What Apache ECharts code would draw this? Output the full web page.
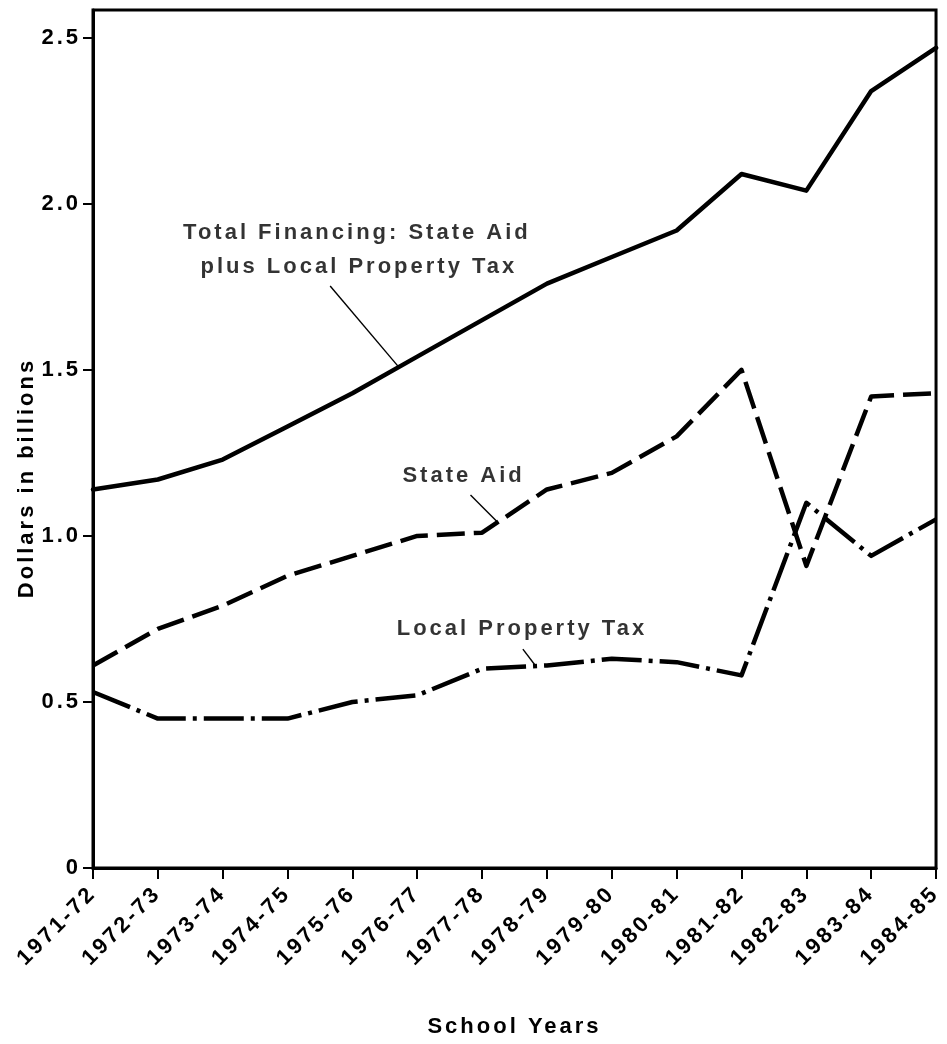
<!DOCTYPE html>
<html>
<head>
<meta charset="utf-8">
<script src="https://cdn.jsdelivr.net/npm/echarts@6/dist/echarts.min.js"></script>
<style>
html,body{margin:0;padding:0;background:#fff;}
#chart{width:947px;height:1044px;}
</style>
</head>
<body>
<div id="chart"></div>
<script>
// ---- data ----
const schoolYears = ['1971-72','1972-73','1973-74','1974-75','1975-76','1976-77','1977-78',
  '1978-79','1979-80','1980-81','1981-82','1982-83','1983-84','1984-85'];
const totalFinancing   = [1.14,1.17,1.23,1.33,1.43,1.54,1.65,1.76,1.84,1.92,2.09,2.04,2.34,2.47];
const stateAid         = [0.61,0.72,0.79,0.88,0.94,1.00,1.01,1.14,1.19,1.30,1.50,0.91,1.42,1.43];
const localPropertyTax = [0.53,0.45,0.45,0.45,0.50,0.52,0.60,0.61,0.63,0.62,0.58,1.10,0.94,1.05];
const yTickValues = [0, 0.5, 1.0, 1.5, 2.0, 2.5];
// annotation labels: [categoryPosition, value, text]
const annotationLabels = [
  [4.07, 1.912, 'Total Financing: State Aid'],
  [4.10, 1.810, 'plus Local Property Tax'],
  [5.715, 1.181, 'State Aid'],
  [6.614, 0.719, 'Local Property Tax']
];
// leader lines: [[x1, y1], [x2, y2]]
const leaderLines = [
  [[3.657, 1.753], [4.709, 1.51]],
  [[5.821, 1.123], [6.248, 1.04]],
  [[6.629, 0.659], [6.812, 0.612]]
];

// wider letter tracking, as in the typeset original
(function(){
  const LS = '3px';
  const p = CanvasRenderingContext2D.prototype;
  const f = p.fillText, m = p.measureText, s = p.strokeText;
  p.fillText = function(){ this.letterSpacing = LS; return f.apply(this, arguments); };
  p.strokeText = function(){ this.letterSpacing = LS; return s.apply(this, arguments); };
  p.measureText = function(){ this.letterSpacing = LS; return m.apply(this, arguments); };
})();

const FONT = "'Liberation Sans', Arial, Helvetica, sans-serif";
const txt = { color:'#000', fontFamily: FONT, fontWeight:'bold', fontSize:22 };

const chart = echarts.init(document.getElementById('chart'), null, {renderer:'canvas'});

const series = [
  { type:'line', name:'Total Financing', data: totalFinancing, symbol:'none', z:3,
    lineStyle:{ color:'#000', width:4.5, type:'solid', cap:'round', join:'round' } },
  { type:'line', name:'State Aid', data: stateAid, symbol:'none', z:3,
    lineStyle:{ color:'#000', width:4.5, type:[28,9], cap:'butt', join:'round' } },
  { type:'line', name:'Local Property Tax', data: localPropertyTax, symbol:'none', z:3,
    lineStyle:{ color:'#000', width:4.5, type:[40,7,4,7], cap:'butt', join:'round' } }
];
leaderLines.forEach(function(seg){
  series.push({ type:'line', xAxisIndex:1, yAxisIndex:0, data: seg, symbol:'none', silent:true,
    lineStyle:{ color:'#000', width:1.4 }, z:2 });
});
series.push({ type:'scatter', xAxisIndex:1, yAxisIndex:0, symbolSize:0, silent:true,
  data: annotationLabels.map(function(a){ return { value:[a[0], a[1]], name:a[2] }; }),
  label:{ show:true, position:'inside', formatter:'{b}', color:'#000', fontFamily:FONT,
    fontWeight:'bold', fontSize:22 } });

chart.setOption({
  animation:false,
  backgroundColor:'#fff',
  grid:{ left:93, right:1, top:10, bottom:172, show:true, borderColor:'#000', borderWidth:3,
    backgroundColor:'transparent', containLabel:false },
  xAxis:[{
    type:'category', data: schoolYears, boundaryGap:false,
    axisLine:{ show:true, lineStyle:{ color:'#000', width:3 } },
    axisTick:{ show:true, alignWithLabel:true, length:11, lineStyle:{ color:'#000', width:2 } },
    axisLabel:Object.assign({ rotate:45, margin:22, interval:0 }, txt),
    splitLine:{ show:false },
    name:'School Years', nameLocation:'middle', nameGap:146, nameMoveOverlap:false,
    nameTextStyle: Object.assign({}, txt)
  },{
    type:'value', min:0, max:13, show:false, gridIndex:0
  }],
  yAxis:[{
    type:'value', min:0, max:2.584, interval:0.5,
    axisLine:{ show:true, lineStyle:{ color:'#000', width:3 } },
    axisTick:{ show:true, length:10, customValues: yTickValues, lineStyle:{ color:'#000', width:2 } },
    axisLabel:Object.assign({ margin:12, customValues: yTickValues,
      formatter:function(v){ return v === 0 ? '0' : v.toFixed(1); } }, txt),
    splitLine:{ show:false },
    name:'Dollars in billions', nameLocation:'middle', nameGap:54, nameRotate:90, nameMoveOverlap:false,
    nameTextStyle: Object.assign({}, txt, { padding:[0, 78, 0, 0] })
  }],
  series: series
});
</script>
</body>
</html>
